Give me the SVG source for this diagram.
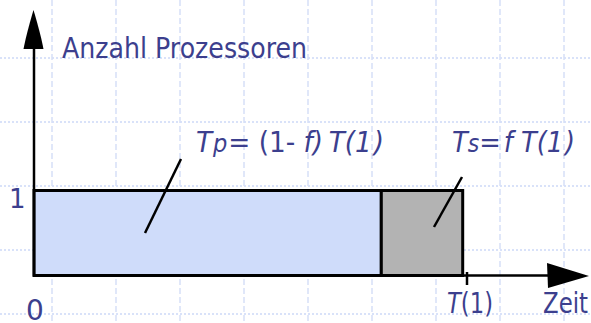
<svg xmlns="http://www.w3.org/2000/svg" width="591" height="323" viewBox="0 0 591 323">
<style>
.gh{stroke:#cdd9f7;stroke-width:1.5;stroke-dasharray:2 2;fill:none}
.gv{stroke:#d6e0f8;stroke-width:1.5;stroke-dasharray:6 3;fill:none}
.t{font-family:"DejaVu Sans",Verdana,sans-serif;fill:#3c3f8e}
.i{font-style:italic}
.ax{stroke:#000;stroke-width:2.5;fill:none}
.ptr{stroke:#000;stroke-width:2.5;fill:none}
</style>
<rect width="591" height="323" fill="#fff"/>
<g id="grid">
<path class="gh" d="M0,58H591M0,122H591M0,186H591M0,250H591M0,314H591"/>
<path class="gv" d="M52,0V323M116,0V323M180,0V323M244,0V323M308,0V323M372,0V323M436,0V323M500,0V323M564,0V323"/>
</g>
<g id="bars">
<rect id="parallel" x="34" y="190.5" width="347.3" height="85" fill="#cfdcfa" stroke="#000" stroke-width="3"/>
<rect id="serial" x="381.3" y="190.5" width="81.4" height="85" fill="#b3b3b3" stroke="#000" stroke-width="3"/>
</g>
<g id="connectors">
<path class="ax" d="M34,276V46"/>
<path d="M33.5,10 C36,18 41,36 43.5,49 L23.5,49 C26,36 31,18 33.5,10 Z" fill="#000"/>
<path class="ax" d="M34,275.5H552"/>
<path d="M547,263 L589,276 L548,288 Z" fill="#000"/>
<path d="M467,272V285" stroke="#000" stroke-width="2.5"/>
<path class="ptr" d="M181,159L145,233"/>
<path class="ptr" d="M462,177L434,227"/>
</g>
<g id="labels">
<text class="t" x="62" y="58" font-size="29" textLength="245" lengthAdjust="spacingAndGlyphs">Anzahl Prozessoren</text>
<text class="t" x="9" y="208" font-size="26">1</text>
<text class="t" x="26" y="320" font-size="28">0</text>
<text class="t" x="447" y="313" font-size="28" textLength="46" lengthAdjust="spacingAndGlyphs"><tspan class="i">T</tspan>(1)</text>
<text class="t" x="543" y="313" font-size="28" textLength="45" lengthAdjust="spacingAndGlyphs">Zeit</text>
<text class="t" x="196" y="152" font-size="28" textLength="188" lengthAdjust="spacingAndGlyphs"><tspan class="i">T</tspan><tspan class="i" font-size="24" dx="1">p</tspan><tspan dx="1">= (1- </tspan><tspan class="i">f)</tspan><tspan class="i" dx="6">T(1</tspan><tspan class="i" dx="2">)</tspan></text>
<text class="t" x="452" y="152" font-size="28" textLength="123" lengthAdjust="spacingAndGlyphs"><tspan class="i">T</tspan><tspan class="i" font-size="24">s</tspan><tspan>=</tspan><tspan class="i" dx="3">f T(1</tspan><tspan class="i" dx="2">)</tspan></text>
</g>
</svg>
